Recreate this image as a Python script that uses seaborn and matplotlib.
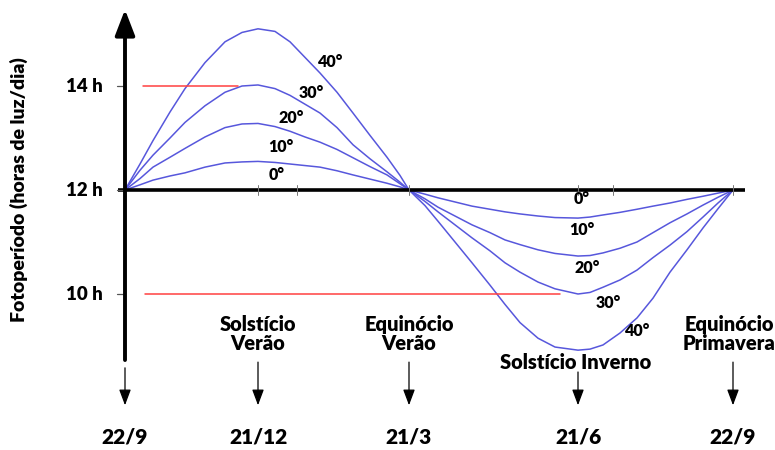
import pandas as pd
import seaborn as sns
import matplotlib.pyplot as plt

# Fotoperíodo (horas de luz/dia) ao longo do ano, por latitude
posicao = [0, 15, 28, 45, 60, 80, 100, 117, 133, 150, 165, 180, 195, 212, 228, 245, 262, 275, 284,
           300, 313, 330, 347, 365, 380, 395, 413, 430, 453, 465, 478, 495, 512, 528, 545, 562, 578, 593, 608]
lat_10 = [12.0, 12.1, 12.19, 12.27, 12.33, 12.44, 12.52, 12.54, 12.55, 12.53, 12.5, 12.47, 12.44,
          12.37, 12.29, 12.21, 12.13, 12.06, 12.0,
          11.92, 11.85, 11.77, 11.69, 11.63, 11.58, 11.54, 11.5, 11.47, 11.46, 11.48, 11.52, 11.57,
          11.63, 11.69, 11.75, 11.82, 11.88, 11.94, 12.0]
lat_20 = [12.0, 12.22, 12.44, 12.63, 12.8, 13.02, 13.2, 13.27, 13.28, 13.22, 13.13, 13.02, 12.92,
          12.78, 12.62, 12.45, 12.29, 12.12, 12.0,
          11.83, 11.67, 11.5, 11.33, 11.18, 11.04, 10.95, 10.85, 10.78, 10.73, 10.74, 10.79, 10.88,
          11.0, 11.18, 11.37, 11.54, 11.71, 11.86, 12.0]
lat_30 = [12.0, 12.38, 12.67, 13.0, 13.3, 13.62, 13.88, 14.0, 14.02, 13.95, 13.82, 13.65, 13.48,
          13.2, 12.87, 12.6, 12.35, 12.15, 12.0,
          11.78, 11.58, 11.33, 11.08, 10.83, 10.6, 10.42, 10.23, 10.1, 10.0, 10.03, 10.13, 10.27,
          10.46, 10.7, 10.94, 11.2, 11.48, 11.75, 12.0]
lat_40 = [12.0, 12.5, 12.95, 13.5, 13.95, 14.45, 14.85, 15.03, 15.1, 15.05, 14.85, 14.55, 14.25,
          13.88, 13.48, 13.05, 12.63, 12.28, 12.0,
          11.7, 11.4, 11.0, 10.6, 10.17, 9.8, 9.45, 9.15, 8.98, 8.92, 8.94, 9.02, 9.25,
          9.54, 9.92, 10.42, 10.85, 11.27, 11.64, 12.0]
latitudes = ["10°", "20°", "30°", "40°"]

datas = ["22/9", "21/12", "21/3", "21/6", "22/9"]
pos_datas = [0, 133, 284, 453, 608]
eventos = ["", "Solstício\nVerão", "Equinócio\nVerão", "Solstício Inverno", "Equinócio\nPrimavera"]
horas = [10, 12, 14]

# Tabela longa para o seaborn
df = pd.DataFrame({
    "pos": posicao * 4,
    "horas": lat_10 + lat_20 + lat_30 + lat_40,
    "lat": [l for l in latitudes for _ in posicao],
})

sns.set_theme(style="white")
plt.rcParams["font.family"] = ["Lato", "DejaVu Sans"]
plt.rcParams["font.weight"] = "heavy"
plt.rcParams["text.color"] = "black"

fig = plt.figure(figsize=(7.75, 4.5), dpi=100)
ax = fig.add_axes([0, 0, 1, 1])
ax.set_xlim(-125, 650)
ax.set_ylim(7.0, 15.654)
ax.axis("off")

azul = "#5757dc"
sns.lineplot(data=df, x="pos", y="horas", hue="lat", palette=[azul] * 4,
             lw=1.1, legend=False, ax=ax)

# Linhas vermelhas de referência (14 h e 10 h)
ax.plot([18, 113], [14, 14], color="#ff4040", lw=1.1)
ax.plot([20, 435], [10, 10], color="#ff4040", lw=1.1)

# Eixos desenhados à mão
ax.plot([-7, 620], [12, 12], color="black", lw=2.6, solid_capstyle="butt")
ax.annotate("", xy=(0, 15.47), xytext=(0, 8.73),
            arrowprops=dict(arrowstyle="-|>,head_length=1.3,head_width=0.5",
                            lw=2.8, color="black", shrinkA=0, shrinkB=0))
for h in horas:
    ax.plot([-8, 0], [h, h], color="#555555", lw=0.9)
    ax.text(-22, h, f"{h} h", ha="right", va="center", fontsize=13.5)

for xp in [133, 172, 284, 453, 488, 608]:
    ax.plot([xp, xp], [11.9, 12.1], color="#777777", lw=0.7)

ax.text(-106, 12.0, "Fotoperíodo (horas de luz/dia)", rotation=90,
        ha="center", va="center", fontsize=14)

# Rótulos das latitudes
sup = [("40°", 206, 14.46), ("30°", 186, 13.87), ("20°", 166, 13.38),
       ("10°", 156, 12.83), ("0°", 152, 12.29)]
inf = [("0°", 457, 11.83), ("10°", 457, 11.23), ("20°", 462, 10.5),
       ("30°", 483, 9.83), ("40°", 513, 9.29)]
for txt, x, y in sup + inf:
    ax.text(x, y, txt, ha="center", va="center", fontsize=11.5)

# Datas, setas e eventos
for xp, d, ev in zip(pos_datas, datas, eventos):
    topo = 8.5 if ev == "Solstício Inverno" else 8.69
    if ev == "":
        topo = 8.58
    ax.annotate("", xy=(xp, 7.86), xytext=(xp, topo),
                arrowprops=dict(arrowstyle="-|>,head_length=0.8,head_width=0.3",
                                lw=0.9, color="black", shrinkA=0, shrinkB=0))
    ax.text(xp, 7.25, d, ha="center", va="center", fontsize=15)
    if ev == "Solstício Inverno":
        ax.text(xp - 2, 8.69, ev, ha="center", va="center", fontsize=14.5)
    elif ev:
        xt = xp - 4 if ev.endswith("Primavera") else xp
        ax.text(xt, 9.23, ev, ha="center", va="center", fontsize=14.5,
                linespacing=1.0)

fig.savefig("out.png", dpi=100, facecolor="white")
